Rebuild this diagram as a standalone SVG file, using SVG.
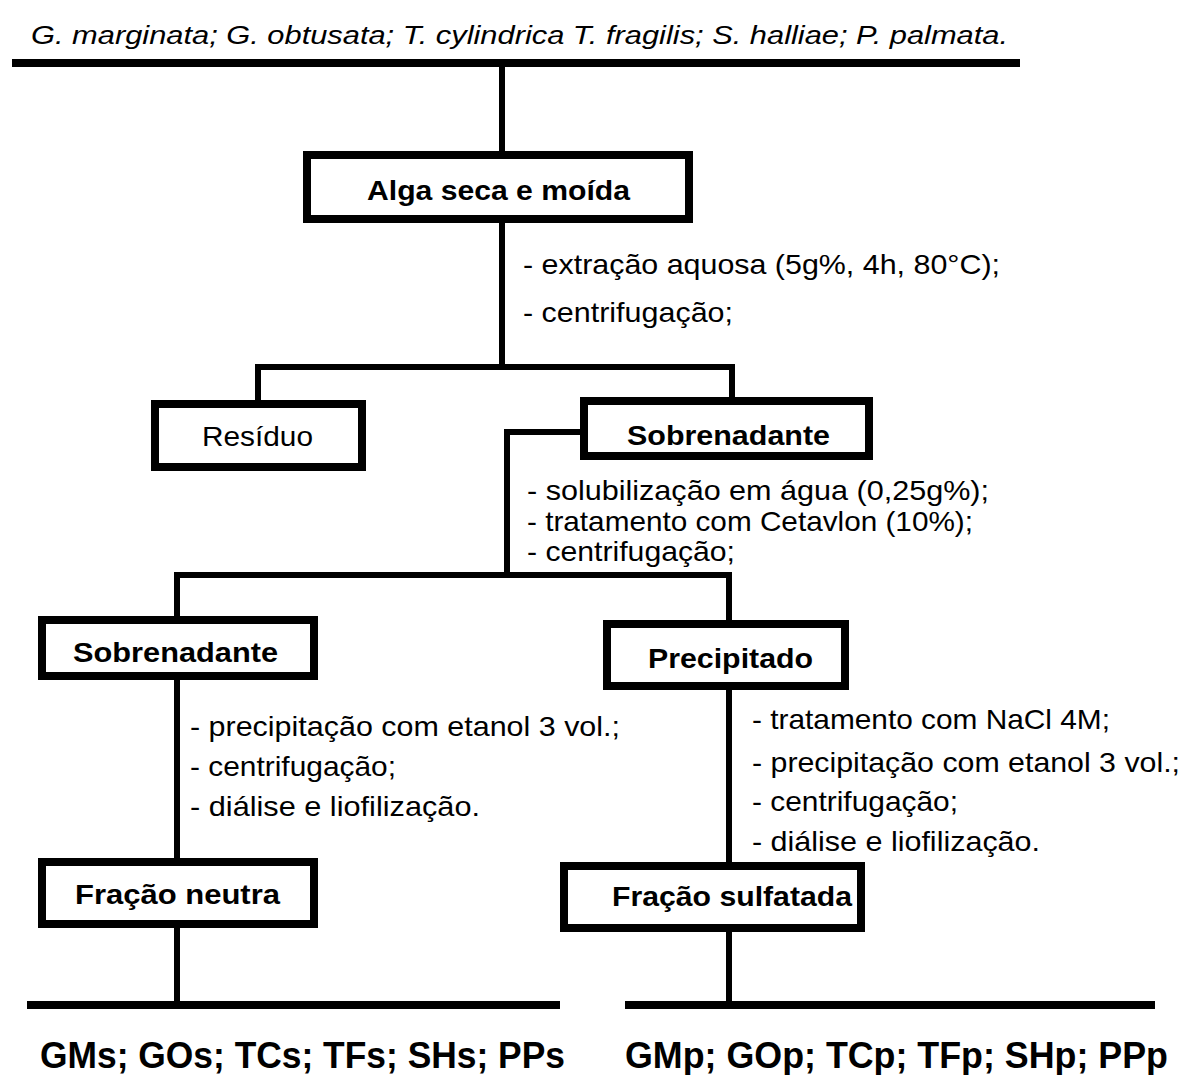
<svg xmlns="http://www.w3.org/2000/svg" width="1184" height="1075" viewBox="0 0 1184 1075">
<style>
.box{fill:#fff;stroke:#000;stroke-width:8}
.ln{fill:none;stroke:#000;stroke-width:6;stroke-linejoin:miter}
.thick{fill:none;stroke:#000;stroke-width:8}
.b{font-family:"Liberation Sans",Arial,sans-serif;font-weight:bold;font-size:28px;fill:#000}
.r{font-family:"Liberation Sans",Arial,sans-serif;font-size:28px;fill:#000}
.it{font-family:"Liberation Sans",Arial,sans-serif;font-style:italic;font-size:26px;fill:#000}
.bb{font-family:"Liberation Sans",Arial,sans-serif;font-weight:bold;font-size:37px;fill:#000}
</style>
<rect width="1184" height="1075" fill="#fff"/>
<text class="it" x="31" y="44" textLength="977" lengthAdjust="spacingAndGlyphs">G. marginata; G. obtusata; T. cylindrica T. fragilis; S. halliae; P. palmata.</text>
<g id="connectors">
<path class="thick" d="M12 63 H1020"/>
<path class="ln" d="M502 63 V151"/>
<path class="ln" d="M502 223 V367"/>
<path class="ln" d="M258 400 V367 H732 V397"/>
<path class="ln" d="M580 432 H507 V575"/>
<path class="ln" d="M177 616 V575 H729 V620"/>
<path class="ln" d="M177 680 V858"/>
<path class="ln" d="M729 690 V862"/>
<path class="ln" d="M177 928 V1005"/>
<path class="ln" d="M729 932 V1005"/>
<path class="thick" d="M27 1005 H560"/>
<path class="thick" d="M625 1005 H1155"/>
</g>
<g id="alga">
<rect class="box" x="307" y="155" width="382" height="64"/>
<text class="b" x="367" y="200" textLength="263" lengthAdjust="spacingAndGlyphs">Alga seca e moída</text>
</g>
<g id="step1">
<text class="r" x="523" y="274" textLength="477" lengthAdjust="spacingAndGlyphs">- extração aquosa (5g%, 4h, 80°C);</text>
<text class="r" x="523" y="322" textLength="210" lengthAdjust="spacingAndGlyphs">- centrifugação;</text>
</g>
<g id="residuo">
<rect class="box" x="155" y="404" width="207" height="63"/>
<text class="r" x="202" y="446" textLength="111" lengthAdjust="spacingAndGlyphs">Resíduo</text>
</g>
<g id="sobrenadante1">
<rect class="box" x="584" y="401" width="285" height="55"/>
<text class="b" x="627" y="445" textLength="203" lengthAdjust="spacingAndGlyphs">Sobrenadante</text>
</g>
<g id="step2">
<text class="r" x="527" y="500" textLength="462" lengthAdjust="spacingAndGlyphs">- solubilização em água (0,25g%);</text>
<text class="r" x="527" y="531" textLength="446" lengthAdjust="spacingAndGlyphs">- tratamento com Cetavlon (10%);</text>
<text class="r" x="527" y="561" textLength="208" lengthAdjust="spacingAndGlyphs">- centrifugação;</text>
</g>
<g id="sobrenadante2">
<rect class="box" x="42" y="620" width="272" height="56"/>
<text class="b" x="73" y="662" textLength="205" lengthAdjust="spacingAndGlyphs">Sobrenadante</text>
</g>
<g id="precipitado">
<rect class="box" x="607" y="624" width="238" height="62"/>
<text class="b" x="648" y="668" textLength="165" lengthAdjust="spacingAndGlyphs">Precipitado</text>
</g>
<g id="step3">
<text class="r" x="190" y="736" textLength="430" lengthAdjust="spacingAndGlyphs">- precipitação com etanol 3 vol.;</text>
<text class="r" x="190" y="776" textLength="206" lengthAdjust="spacingAndGlyphs">- centrifugação;</text>
<text class="r" x="190" y="816" textLength="290" lengthAdjust="spacingAndGlyphs">- diálise e liofilização.</text>
</g>
<g id="step4">
<text class="r" x="752" y="729" textLength="358" lengthAdjust="spacingAndGlyphs">- tratamento com NaCl 4M;</text>
<text class="r" x="752" y="772" textLength="428" lengthAdjust="spacingAndGlyphs">- precipitação com etanol 3 vol.;</text>
<text class="r" x="752" y="811" textLength="206" lengthAdjust="spacingAndGlyphs">- centrifugação;</text>
<text class="r" x="752" y="851" textLength="288" lengthAdjust="spacingAndGlyphs">- diálise e liofilização.</text>
</g>
<g id="neutra">
<rect class="box" x="42" y="862" width="272" height="62"/>
<text class="b" x="75" y="904" textLength="205" lengthAdjust="spacingAndGlyphs">Fração neutra</text>
</g>
<g id="sulfatada">
<rect class="box" x="564" y="866" width="297" height="62"/>
<text class="b" x="612" y="906" textLength="240" lengthAdjust="spacingAndGlyphs">Fração sulfatada</text>
</g>
<g id="result-neutral">
<text class="bb" x="40" y="1068" textLength="525" lengthAdjust="spacingAndGlyphs">GMs; GOs; TCs; TFs; SHs; PPs</text>
</g>
<g id="result-sulfated">
<text class="bb" x="625" y="1068" textLength="543" lengthAdjust="spacingAndGlyphs">GMp; GOp; TCp; TFp; SHp; PPp</text>
</g>
</svg>
